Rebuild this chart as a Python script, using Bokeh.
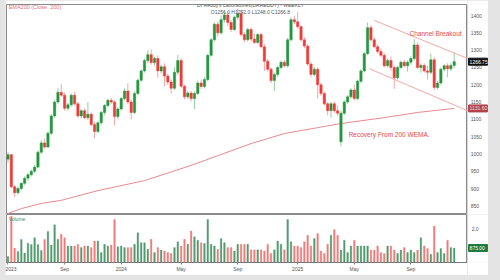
import pandas as pd
from bokeh.plotting import figure
from bokeh.models import (ColumnDataSource, LinearAxis, Range1d, FixedTicker,
                          Label, Span)
from bokeh.layouts import column, row
from bokeh.core.properties import value
from bokeh.embed import file_html
from bokeh.resources import INLINE

# ---------------- data (weekly candles) ----------------
start_date = "2023-05-08"
open_ = [985, 998, 905, 888, 900, 915, 930, 940, 950, 962,
         1005, 1032, 1020, 1060, 1110, 1150, 1178, 1170, 1132, 1142,
         1170, 1145, 1110, 1125, 1105, 1115, 1085, 1065, 1090, 1120,
         1140, 1155, 1150, 1108, 1130, 1160, 1182, 1150, 1120, 1175,
         1213, 1240, 1270, 1287, 1264, 1276, 1240, 1252, 1225, 1208,
         1190, 1236, 1270, 1196, 1165, 1176, 1160, 1175, 1205, 1195,
         1215, 1285, 1330, 1375, 1350, 1388, 1402, 1380, 1360, 1395,
         1405, 1345, 1330, 1360, 1332, 1322, 1345, 1310, 1268, 1245,
         1212, 1230, 1250, 1265, 1255, 1330, 1388, 1382, 1368, 1330,
         1312, 1260, 1230, 1245, 1200, 1175, 1145, 1125, 1145, 1125,
         1035, 1118, 1150, 1165, 1185, 1160, 1210, 1240, 1290, 1365,
         1330, 1310, 1296, 1285, 1255, 1270, 1250, 1220, 1250, 1265,
         1255, 1265, 1276, 1315, 1250, 1256, 1240, 1236, 1272, 1192,
         1205, 1245, 1255, 1246, 1256]
high = [1005, 1000, 910, 905, 918, 935, 945, 955, 968, 1010,
        1040, 1045, 1065, 1115, 1155, 1190, 1202, 1178, 1148, 1175,
        1180, 1150, 1130, 1132, 1150, 1120, 1092, 1095, 1125, 1145,
        1160, 1162, 1155, 1135, 1165, 1190, 1205, 1158, 1180, 1218,
        1245, 1275, 1300, 1302, 1282, 1285, 1258, 1262, 1232, 1215,
        1250, 1286, 1278, 1200, 1182, 1182, 1180, 1212, 1215, 1222,
        1290, 1335, 1380, 1382, 1400, 1410, 1412, 1388, 1400, 1420,
        1415, 1352, 1365, 1366, 1348, 1350, 1350, 1318, 1275, 1250,
        1235, 1255, 1270, 1272, 1335, 1395, 1400, 1410, 1372, 1338,
        1318, 1265, 1252, 1250, 1205, 1180, 1150, 1150, 1152, 1140,
        1125, 1155, 1170, 1190, 1200, 1215, 1245, 1295, 1380, 1372,
        1338, 1318, 1305, 1292, 1275, 1282, 1256, 1255, 1270, 1272,
        1270, 1282, 1332, 1322, 1262, 1262, 1255, 1290, 1280, 1210,
        1250, 1260, 1262, 1262, 1292]
low = [975, 902, 875, 882, 895, 910, 922, 935, 945, 958,
       1000, 1015, 1018, 1055, 1105, 1145, 1165, 1125, 1125, 1138,
       1140, 1105, 1102, 1100, 1098, 1080, 1045, 1060, 1085, 1112,
       1135, 1145, 1082, 1100, 1125, 1155, 1145, 1100, 1115, 1170,
       1208, 1235, 1262, 1258, 1255, 1220, 1232, 1195, 1200, 1175,
       1185, 1228, 1190, 1158, 1158, 1152, 1130, 1170, 1188, 1190,
       1210, 1280, 1325, 1340, 1345, 1380, 1370, 1352, 1355, 1388,
       1340, 1322, 1325, 1325, 1318, 1318, 1305, 1240, 1238, 1205,
       1182, 1222, 1245, 1250, 1250, 1325, 1375, 1362, 1325, 1305,
       1255, 1222, 1225, 1160, 1168, 1140, 1112, 1105, 1118, 1110,
       1022, 1112, 1145, 1160, 1155, 1155, 1205, 1235, 1285, 1325,
       1305, 1290, 1280, 1250, 1250, 1240, 1188, 1215, 1245, 1250,
       1238, 1258, 1270, 1245, 1235, 1235, 1215, 1230, 1185, 1186,
       1200, 1238, 1222, 1240, 1248]
close = [998, 905, 888, 900, 915, 930, 940, 950, 962, 1005,
         1032, 1020, 1060, 1110, 1150, 1178, 1170, 1132, 1142, 1170,
         1145, 1110, 1125, 1105, 1115, 1085, 1065, 1090, 1120, 1140,
         1155, 1150, 1108, 1130, 1160, 1182, 1150, 1120, 1175, 1213,
         1240, 1270, 1287, 1264, 1276, 1240, 1252, 1225, 1208, 1190,
         1236, 1270, 1196, 1165, 1176, 1160, 1175, 1205, 1195, 1215,
         1285, 1330, 1375, 1350, 1388, 1402, 1380, 1360, 1395, 1405,
         1345, 1330, 1360, 1332, 1322, 1345, 1310, 1268, 1245, 1212,
         1230, 1250, 1265, 1255, 1330, 1388, 1382, 1368, 1330, 1312,
         1260, 1230, 1245, 1200, 1175, 1145, 1125, 1145, 1125, 1118,
         1118, 1150, 1165, 1185, 1160, 1210, 1240, 1290, 1365, 1330,
         1310, 1296, 1285, 1255, 1270, 1250, 1220, 1250, 1265, 1255,
         1265, 1276, 1315, 1250, 1256, 1240, 1236, 1272, 1192, 1205,
         1245, 1255, 1246, 1256, 1266.75]
volume = [0.36, 2.8, 0.87, 0.67, 1.39, 0.57, 1.17, 1.09, 1.5, 1.09,
          0.73, 1.39, 1.88, 1.05, 2.28, 1.4, 1.7, 1.5, 0.99, 0.99,
          0.99, 1.1, 0.9, 1.0, 1.0, 0.9, 1.3, 1.3, 0.6, 1.1,
          1.0, 1.05, 2.6, 0.95, 1.0, 0.9, 0.9, 0.9, 1.1, 1.8,
          1.2, 1.2, 0.8, 1.4, 0.6, 0.9, 0.75, 0.7, 0.6, 0.55,
          0.9, 1.25, 1.0, 1.4, 1.1, 1.9, 1.55, 1.35, 1.2, 1.15,
          2.6, 1.1, 1.0, 0.8, 1.45, 1.2, 0.9, 0.9, 0.7, 1.1,
          1.1, 1.1, 1.1, 0.77, 0.77, 0.77, 0.77, 0.7, 1.1, 0.55,
          0.77, 1.3, 1.1, 0.77, 2.6, 1.25, 1.0, 1.0, 0.9, 1.25,
          1.65, 1.0, 1.45, 1.75, 0.7, 0.55, 1.1, 1.65, 2.0, 1.65,
          0.75, 1.35, 0.6, 1.0, 1.35, 1.0, 1.0, 1.0, 1.0, 0.75,
          0.75, 1.0, 0.6, 0.55, 1.0, 1.0, 0.75, 0.55, 0.75, 0.9,
          0.6, 0.75, 0.6, 0.75, 1.5, 1.0, 0.85, 0.5, 2.2, 0.6,
          0.85, 0.55, 1.35, 0.9, 0.875]
# 200-week EMA, read at a few weeks
ema_idx = [0, 4, 10, 16, 27, 41, 55, 73, 83, 93, 100, 113, 123, 134]
ema_val = [828, 842, 857, 866, 894, 923, 967, 1030, 1059, 1076, 1088, 1105, 1120, 1131.6]
# channel lines (week index, price)
upper_x = [110, 138]
upper_y = [1386, 1276]
lower_x = [108.4, 138]
lower_y = [1247, 1125]
price_ticks = [850, 900, 950, 1000, 1050, 1100, 1150, 1200, 1250, 1300, 1350, 1400]
vol_ticks = [1, 2]

# ---------------- derived ----------------
n = len(close)
idx = list(range(n))
dates = pd.date_range(start_date, periods=n, freq="7D")
GREEN, RED = "#23963f", "#f03a3a"
up = [c >= o for o, c in zip(open_, close)]
src = ColumnDataSource(dict(
    i=idx, o=open_, h=high, l=low, c=close, vol=volume,
    top=[max(o, c) for o, c in zip(open_, close)],
    bot=[min(o, c) for o, c in zip(open_, close)],
    col=[GREEN if u else RED for u in up],
    wcol=["#93cf9f" if u else "#f5a5a5" for u in up],
    vcol=["#529a70" if u else "#f07c7c" for u in up],
))

tick_pos, tick_lab = [0], {0: "2023"}
for k in range(1, n):
    d, pd_ = dates[k], dates[k - 1]
    if d.month != pd_.month and d.month in (1, 5, 9):
        tick_pos.append(k)
        tick_lab[k] = str(d.year) if d.month == 1 else d.strftime("%b")

FONT = "Liberation Sans"
xr = Range1d(-0.45, 138)
PINK = "#f2a0a8"


def side_panel(height, yr, min_bottom, top, margin):
    s = figure(width=21, height=height, x_range=Range1d(0, 1), y_range=yr,
               output_backend="svg", toolbar_location=None,
               x_axis_location=None, y_axis_location=None,
               min_border_left=0, min_border_right=0, min_border_top=top,
               min_border_bottom=min_bottom, background_fill_color="white",
               border_fill_color="white", outline_line_color=None, margin=margin)
    s.xgrid.visible = False
    s.ygrid.visible = False
    s.add_layout(Span(location=0, dimension="height", line_color=PINK, line_width=1))
    s.add_layout(Span(location=1, dimension="height", line_color="#e8b0b5", line_width=1))
    return s


def tag(s, y, text, bg, fg):
    s.rect(x=[0.5], y=[y], width=[0.9], height=[7], height_units="screen",
           fill_color=bg, line_color=bg)
    s.text(x=[0.1], y=[y], text=[text], text_font_size="5px", text_color=fg,
           text_font=value(FONT), text_baseline="middle")


# ---------------- price panel ----------------
p1 = figure(width=462, height=214, x_range=xr, y_range=Range1d(825, 1432),
            output_backend="svg", toolbar_location=None,
            x_axis_location=None, y_axis_location=None,
            min_border_left=1, min_border_right=0, min_border_top=4, min_border_bottom=0,
            background_fill_color="white", border_fill_color="white",
            outline_line_color="#8a8a8a", margin=(0, 0, 0, 5))
p1.xgrid.visible = False
p1.ygrid.visible = False

p1.line(ema_idx, ema_val, line_color="#e88a90", line_width=1)
p1.line(upper_x, upper_y, line_color="#f29090", line_width=0.8)
p1.line(lower_x, lower_y, line_color="#f29090", line_width=0.8)
p1.segment(x0="i", y0="l", x1="i", y1="h", line_color="wcol", line_width=1, source=src)
p1.vbar(x="i", width=0.7, top="top", bottom="bot", fill_color="col",
        line_color="col", line_width=0.5, source=src)

p1.add_layout(Label(x=120.6, y=1348, text="Channel Breakout", text_font_size="6.5px",
                    text_color="#e8464b", text_font=FONT, text_baseline="middle"))
p1.add_layout(Label(x=102.3, y=1056, text="Recovery From 200 WEMA.", text_font_size="6.5px",
                    text_color="#e8464b", text_font=FONT, text_baseline="middle"))
p1.add_layout(Label(x=0.2, y=1424, text="EMA200 (Close, 200)", text_font_size="5.5px",
                    text_color="#e07078", text_font=FONT, text_baseline="middle"))
p1.add_layout(Label(x=72.8, y=1431, text="Dr Reddy's Laboratories(DRREDDY) - WEEKLY",
                    text_font_size="5px", text_color="#555555", text_font=FONT,
                    text_align="center", text_baseline="middle"))
ohlc = f"O{open_[-1]:.1f} H{high[-1]:.1f} L{low[-1]:.1f} C{close[-1]:.1f}"
p1.add_layout(Label(x=72.8, y=1409, text=ohlc, text_font_size="5px", text_color="#555555",
                    text_font=FONT, text_align="center", text_baseline="middle"))

pa = side_panel(214, p1.y_range, 0, 4, (0, 12, 0, 0))
pa.text(x=[0.15] * len(price_ticks), y=price_ticks, text=[str(t) for t in price_ticks],
        text_font_size="5px", text_color="#555555", text_font=value(FONT),
        text_baseline="middle")
tag(pa, close[-1], f"{close[-1]:.2f}", "#111111", "white")
tag(pa, ema_val[-1], f"{ema_val[-1]:.2f}", "#b0464b", "#f6d6d6")

# ---------------- volume panel ----------------
p2 = figure(width=462, height=61, x_range=xr, y_range=Range1d(0, 2.9),
            output_backend="svg", toolbar_location=None,
            x_axis_location=None, y_axis_location=None,
            min_border_left=1, min_border_right=0, min_border_top=0, min_border_bottom=13,
            background_fill_color="white", border_fill_color="white",
            outline_line_color="#8a8a8a", margin=(0, 0, 5, 5))
p2.xgrid.visible = False
p2.ygrid.visible = False
xax = LinearAxis(ticker=FixedTicker(ticks=tick_pos), major_label_overrides=tick_lab,
                 major_label_text_font_size="5px", major_label_text_color="#555555",
                 major_label_text_font=FONT,
                 major_tick_line_color="#888888", major_tick_out=2, major_tick_in=0,
                 minor_tick_line_color=None, axis_line_color="#777777",
                 major_label_standoff=1)
p2.add_layout(xax, "below")
p2.vbar(x="i", width=0.5, top="vol", bottom=0, fill_color="vcol", line_color="vcol",
        line_width=0.3, source=src)
p2.add_layout(Label(x=0.2, y=2.62, text="Volume", text_font_size="5px", text_color="#3d8f5f",
                    text_font=FONT, text_baseline="middle"))

pb = side_panel(61, p2.y_range, 13, 0, (0, 12, 5, 0))
pb.text(x=[0.2] * len(vol_ticks), y=vol_ticks, text=[f"{t:.1f}" for t in vol_ticks],
        text_font_size="5px", text_color="#555555", text_font=value(FONT),
        text_baseline="middle")
tag(pb, volume[-1], f"{volume[-1]*1000:.2f}", "#1f7a3c", "white")

layout = column(row(p1, pa, spacing=0), row(p2, pb, spacing=0), spacing=0,
                styles={"background-color": "#e4e4e4"})
open("out.html", "w").write(file_html(layout, INLINE))
